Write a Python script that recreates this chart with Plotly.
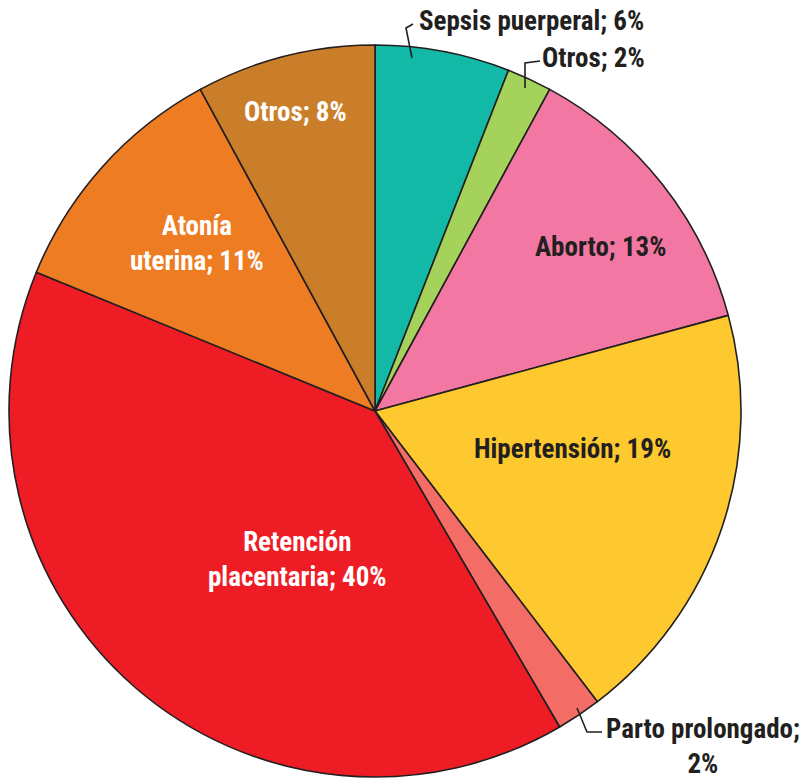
import plotly.graph_objects as go

labels = ["Sepsis puerperal", "Otros", "Aborto", "Hipertensión", "Parto prolongado",
          "Retención placentaria", "Atonía uterina", "Otros"]
values = [6, 2, 13, 19, 2, 40, 11, 8]
colors = ["#12B9A7", "#A5D25A", "#F278A3", "#FEC82F", "#F36C65", "#EE1D25", "#EE7C23", "#CB7E2A"]

# label texts and their placement (page pixel positions)
label_texts = ["Sepsis puerperal; 6%", "Otros; 2%", "Aborto; 13%", "Hipertensión; 19%",
               "Parto prolongado;<br>2%", "Retención<br>placentaria; 40%",
               "Atonía<br>uterina; 11%", "Otros; 8%"]
label_px = [(531, 21), (593, 58), (600, 247), (572, 449), (703, 746), (297, 559), (197, 243), (295, 112)]
label_colors = ["#231F20", "#231F20", "#231F20", "#231F20", "#231F20", "white", "white", "white"]

W, H = 805, 778
cx, cy, r = 375, 411, 366


def px2paper(x, y):
    return x / W, 1 - y / H


fig = go.Figure(go.Pie(
    labels=[f"{l} {i}" for i, l in enumerate(labels)],
    values=values,
    sort=False,
    direction="clockwise",
    rotation=0,
    textinfo="none",
    hoverinfo="label+value",
    marker=dict(colors=colors, line=dict(color="#231F20", width=1.6)),
    domain=dict(x=[(cx - r) / W, (cx + r) / W], y=[1 - (cy + r) / H, 1 - (cy - r) / H]),
    showlegend=False,
))

font_family = "Roboto Condensed, Liberation Sans Narrow, Roboto, sans-serif"
for t, (px, py), c in zip(label_texts, label_px, label_colors):
    x, y = px2paper(px, py)
    fig.add_annotation(x=x, y=y, xref="paper", yref="paper",
                       text=f"<b>{t}</b>", showarrow=False,
                       font=dict(family=font_family, size=27, color=c),
                       xanchor="center", yanchor="middle", align="center")

# leader lines
leaders = [
    [(412, 58), (406, 28), (413, 24)],
    [(525, 88), (525, 63), (540, 61)],
    [(577, 708), (587, 732), (602, 732)],
]
for pts in leaders:
    path = "M " + " L ".join("{} {}".format(*px2paper(x, y)) for x, y in pts)
    fig.add_shape(type="path", path=path, xref="paper", yref="paper",
                  line=dict(color="#231F20", width=1.6))

fig.update_layout(width=W, height=H, margin=dict(l=0, r=0, t=0, b=0),
                  paper_bgcolor="white", plot_bgcolor="white")
fig.write_html("out.html", config={"displayModeBar": False},
               post_script="document.body.style.margin='0';document.body.style.overflow='hidden';")
